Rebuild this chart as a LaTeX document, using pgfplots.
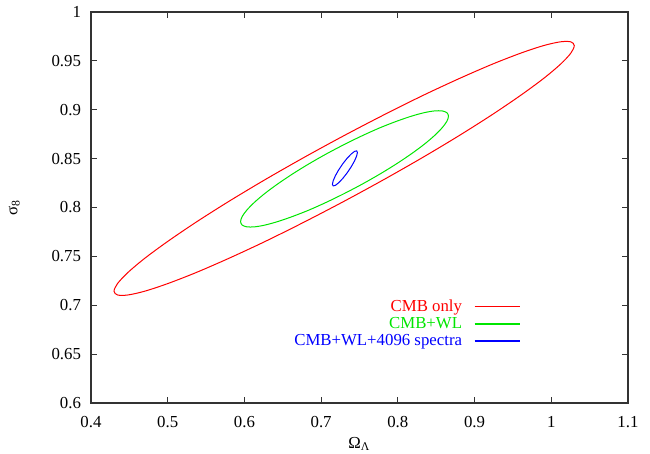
\documentclass[border=0pt]{standalone}
\usepackage{fontspec}
\setmainfont{Liberation Serif}
\usepackage{pgfplots}
\pgfplotsset{compat=1.18}
\definecolor{gpred}{RGB}{255,0,0}
\definecolor{gpgreen}{RGB}{0,230,0}
\definecolor{gpblue}{RGB}{0,0,255}

\begin{document}
\begin{tikzpicture}
\begin{axis}[at={(0,0)},anchor=south west,
  scale only axis,width=268.5pt,height=195.5pt,
  xmin=0.4,xmax=1.1,ymin=0.6,ymax=1,
  xtick={0.4,0.5,...,1.1},ytick={0.6,0.65,...,1.0},
  scaled ticks=false,
  tick align=inside,major tick length=3pt,
  axis line style={line width=0.6pt,black!80},
  tick style={line width=0.5pt,black!80},
  /pgf/number format/assume math mode=true,
  tick label style={font=\fontsize{8.4}{10}\selectfont},
  xticklabel style={yshift=-3pt},
  yticklabel style={xshift=-1.5pt},
  label style={font=\fontsize{8.4}{10}\selectfont},
  xlabel={Ω\textsubscript{Λ}},ylabel={σ\textsubscript{8}},
  xlabel style={yshift=2pt},ylabel style={yshift=9pt},
  legend plot pos=right,legend cell align=right,
  legend style={draw=none,fill=none,at={(0.80,0.275)},anchor=north east,
    font=\fontsize{8.4}{10}\selectfont,inner sep=0pt,row sep=-2.6pt},
  legend image code/.code={\path (0pt,0pt); \draw[#1,line width=0.6pt] (4pt,0.2pt) -- (26.5pt,0.2pt);},
  every axis plot/.append style={line width=0.5pt}]
\addplot[gpred,smooth cycle,tension=0.5] coordinates {
(1.0300,0.9656) (1.0254,0.9695) (1.0119,0.9695) (0.9898,0.9656) (0.9598,0.9578)
(0.9228,0.9465) (0.8800,0.9319) (0.8326,0.9146) (0.7821,0.8949) (0.7300,0.8736)
(0.6779,0.8513) (0.6274,0.8287) (0.5800,0.8064) (0.5372,0.7851) (0.5002,0.7654)
(0.4702,0.7481) (0.4481,0.7335) (0.4346,0.7222) (0.4300,0.7144) (0.4346,0.7105)
(0.4481,0.7105) (0.4702,0.7144) (0.5002,0.7222) (0.5372,0.7335) (0.5800,0.7481)
(0.6274,0.7654) (0.6779,0.7851) (0.7300,0.8064) (0.7821,0.8287) (0.8326,0.8513)
(0.8800,0.8736) (0.9228,0.8949) (0.9598,0.9146) (0.9898,0.9319) (1.0119,0.9465)
(1.0254,0.9578)};
\addlegendentry{\textcolor{gpred}{CMB only}}
\addplot[gpgreen,smooth cycle,tension=0.5] coordinates {
(0.8660,0.8934) (0.8639,0.8970) (0.8578,0.8988) (0.8478,0.8988) (0.8343,0.8970)
(0.8176,0.8934) (0.7983,0.8882) (0.7768,0.8816) (0.7540,0.8736) (0.7305,0.8646)
(0.7070,0.8549) (0.6842,0.8447) (0.6627,0.8343) (0.6434,0.8241) (0.6267,0.8144)
(0.6132,0.8054) (0.6032,0.7974) (0.5971,0.7908) (0.5950,0.7856) (0.5971,0.7820)
(0.6032,0.7802) (0.6132,0.7802) (0.6267,0.7820) (0.6434,0.7856) (0.6627,0.7908)
(0.6842,0.7974) (0.7070,0.8054) (0.7305,0.8144) (0.7540,0.8241) (0.7768,0.8343)
(0.7983,0.8447) (0.8176,0.8549) (0.8343,0.8646) (0.8478,0.8736) (0.8578,0.8816)
(0.8639,0.8882)};
\addlegendentry{\textcolor{gpgreen}{CMB+WL}}
\addplot[gpblue] coordinates {
(0.7473,0.8563) (0.7463,0.8579) (0.7435,0.8574) (0.7392,0.8547) (0.7338,0.8503)
(0.7282,0.8447) (0.7228,0.8384) (0.7185,0.8324) (0.7157,0.8273) (0.7147,0.8237)
(0.7157,0.8221) (0.7185,0.8226) (0.7228,0.8253) (0.7282,0.8297) (0.7338,0.8353)
(0.7392,0.8416) (0.7435,0.8476) (0.7463,0.8527) (0.7473,0.8563)};
\addlegendentry{\textcolor{gpblue}{CMB+WL+4096 spectra}}
\end{axis}
\pgfresetboundingbox
\path (-45.5pt,-25.5pt) rectangle (279.5pt,201.5pt);
\end{tikzpicture}
\end{document}
